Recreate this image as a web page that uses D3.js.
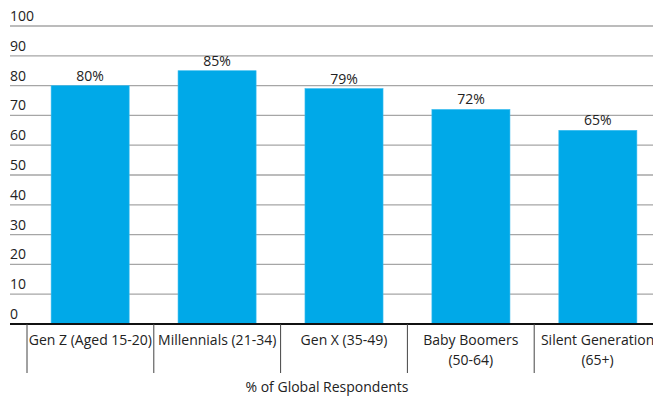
<!DOCTYPE html>
<html>
<head>
<meta charset="utf-8">
<script src="https://cdn.jsdelivr.net/npm/d3@7"></script>
<style>
  html, body { margin: 0; padding: 0; background: #fff; }
  svg text { font-family: "Open Sans", "Noto Sans", sans-serif; }
</style>
</head>
<body>
<svg id="chart" width="653" height="399"></svg>
<script>
const categories = [
  ["Gen Z (Aged 15-20)"],
  ["Millennials (21-34)"],
  ["Gen X (35-49)"],
  ["Baby Boomers", "(50-64)"],
  ["Silent Generation", "(65+)"]
];
const values = [80, 85, 79, 72, 65];
const yTicks = [0, 10, 20, 30, 40, 50, 60, 70, 80, 90, 100];
const axisTitle = "% of Global Respondents";

const svg = d3.select("#chart");
const W = 653;
const FS = 14;

const x = d3.scaleBand()
  .domain(d3.range(categories.length))
  .range([27, 661])
  .paddingInner(0.385)
  .paddingOuter(0.19);

// band edges for the category separators
const step = (661 - 27) / categories.length;

const y = d3.scaleLinear().domain([0, 100]).range([324, 26]);

// horizontal gridlines with tick labels sitting on top
const grid = svg.append("g");
grid.selectAll("line").data(yTicks.filter(d => d > 0)).join("line")
  .attr("x1", 10).attr("x2", W)
  .attr("y1", d => y(d)).attr("y2", d => y(d))
  .attr("stroke", "#a6a6a6").attr("stroke-width", 1.3);
grid.selectAll("text").data(yTicks).join("text")
  .attr("x", 10).attr("y", d => y(d) - 5)
  .attr("font-size", FS).attr("fill", "#222")
  .text(d => d);

// bars
svg.append("g").selectAll("rect").data(values).join("rect")
  .attr("x", (d, i) => x(i))
  .attr("width", x.bandwidth())
  .attr("y", d => y(d))
  .attr("height", d => y(0) - y(d))
  .attr("fill", "#00a9e8")
  .attr("stroke", "#3bbdf0").attr("stroke-width", 0.6);

// value labels
svg.append("g").selectAll("text").data(values).join("text")
  .attr("x", (d, i) => x(i) + x.bandwidth() / 2)
  .attr("y", d => y(d) - 5)
  .attr("text-anchor", "middle")
  .attr("font-size", FS).attr("fill", "#222")
  .text(d => d + "%");

// category axis: baseline, separators and labels
svg.append("line")
  .attr("x1", 10).attr("x2", W)
  .attr("y1", y(0)).attr("y2", y(0))
  .attr("stroke", "#111").attr("stroke-width", 2);

svg.append("g").selectAll("line").data(d3.range(categories.length)).join("line")
  .attr("x1", i => 27 + i * step).attr("x2", i => 27 + i * step)
  .attr("y1", y(0)).attr("y2", 373)
  .attr("stroke", "#444").attr("stroke-width", 1);

const labels = svg.append("g").selectAll("text").data(categories).join("text")
  .attr("x", (d, i) => 27 + i * step + step / 2)
  .attr("y", 345)
  .attr("text-anchor", "middle")
  .attr("font-size", FS).attr("fill", "#222");
labels.selectAll("tspan").data(d => d).join("tspan")
  .attr("x", function() { return this.parentNode.getAttribute("x"); })
  .attr("dy", (d, j) => j === 0 ? 0 : 20)
  .text(d => d);

svg.append("text")
  .attr("x", 327).attr("y", 392)
  .attr("text-anchor", "middle")
  .attr("font-size", FS).attr("fill", "#222")
  .text(axisTitle);
</script>
</body>
</html>
